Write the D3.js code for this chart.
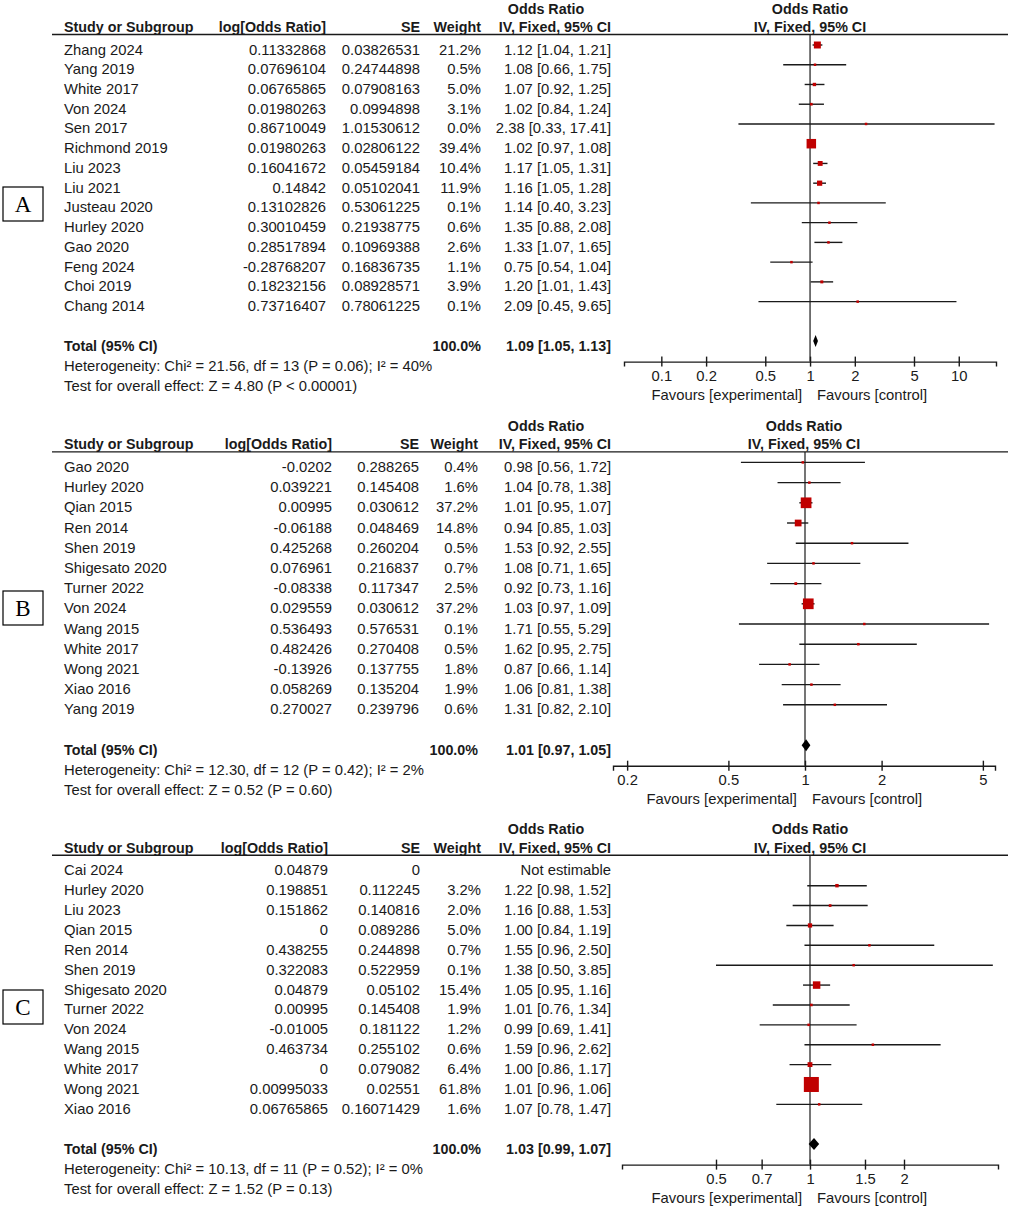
<!DOCTYPE html>
<meta charset="utf-8">
<style>
body { margin: 0; background: #fff; }
text { font-family: "Liberation Sans", Arial, sans-serif; fill: #1a1a1a; }
.t { font-size: 14.8px; }
.b { font-size: 14.3px; font-weight: bold; }
.ci { stroke: #1a1a1a; stroke-width: 1.4px; }
.sq { fill: #c00000; }
.axis path, .axis line { stroke: #1a1a1a; stroke-width: 1.4px; }
.axis text { font-family: "Liberation Sans", Arial, sans-serif; font-size: 14.8px; fill: #1a1a1a; }
</style>
<body>
<script src="https://cdn.jsdelivr.net/npm/d3@7"></script>
<script>

// ---- panel A ----
var studiesA = ["Zhang 2024", "Yang 2019", "White 2017", "Von 2024", "Sen 2017", "Richmond 2019", "Liu 2023",
                "Liu 2021", "Justeau 2020", "Hurley 2020", "Gao 2020", "Feng 2024", "Choi 2019", "Chang 2014"];
var logOrA = [0.11332868, 0.07696104, 0.06765865, 0.01980263, 0.86710049, 0.01980263, 0.16041672,
              0.14842, 0.13102826, 0.30010459, 0.28517894, -0.28768207, 0.18232156, 0.73716407];
var seA = [0.03826531, 0.24744898, 0.07908163, 0.0994898, 1.01530612, 0.02806122, 0.05459184,
           0.05102041, 0.53061225, 0.21938775, 0.10969388, 0.16836735, 0.08928571, 0.78061225];
var weightA = [21.2, 0.5, 5.0, 3.1, 0.0, 39.4, 10.4, 11.9, 0.1, 0.6, 2.6, 1.1, 3.9, 0.1];
var orA = [1.12, 1.08, 1.07, 1.02, 2.38, 1.02, 1.17, 1.16, 1.14, 1.35, 1.33, 0.75, 1.20, 2.09];
var loA = [1.04, 0.66, 0.92, 0.84, 0.33, 0.97, 1.05, 1.05, 0.40, 0.88, 1.07, 0.54, 1.01, 0.45];
var hiA = [1.21, 1.75, 1.25, 1.24, 17.41, 1.08, 1.31, 1.28, 3.23, 2.08, 1.65, 1.04, 1.43, 9.65];
var totalA = [1.09, 1.05, 1.13];
var hetA = "Heterogeneity: Chi\u00b2 = 21.56, df = 13 (P = 0.06); I\u00b2 = 40%";
var testA = "Test for overall effect: Z = 4.80 (P < 0.00001)";
var ticksA = [0.1, 0.2, 0.5, 1, 2, 5, 10];

// ---- panel B ----
var studiesB = ["Gao 2020", "Hurley 2020", "Qian 2015", "Ren 2014", "Shen 2019", "Shigesato 2020", "Turner 2022",
                "Von 2024", "Wang 2015", "White 2017", "Wong 2021", "Xiao 2016", "Yang 2019"];
var logOrB = [-0.0202, 0.039221, 0.00995, -0.06188, 0.425268, 0.076961, -0.08338,
              0.029559, 0.536493, 0.482426, -0.13926, 0.058269, 0.270027];
var seB = [0.288265, 0.145408, 0.030612, 0.048469, 0.260204, 0.216837, 0.117347,
           0.030612, 0.576531, 0.270408, 0.137755, 0.135204, 0.239796];
var weightB = [0.4, 1.6, 37.2, 14.8, 0.5, 0.7, 2.5, 37.2, 0.1, 0.5, 1.8, 1.9, 0.6];
var orB = [0.98, 1.04, 1.01, 0.94, 1.53, 1.08, 0.92, 1.03, 1.71, 1.62, 0.87, 1.06, 1.31];
var loB = [0.56, 0.78, 0.95, 0.85, 0.92, 0.71, 0.73, 0.97, 0.55, 0.95, 0.66, 0.81, 0.82];
var hiB = [1.72, 1.38, 1.07, 1.03, 2.55, 1.65, 1.16, 1.09, 5.29, 2.75, 1.14, 1.38, 2.10];
var totalB = [1.01, 0.97, 1.05];
var hetB = "Heterogeneity: Chi\u00b2 = 12.30, df = 12 (P = 0.42); I\u00b2 = 2%";
var testB = "Test for overall effect: Z = 0.52 (P = 0.60)";
var ticksB = [0.2, 0.5, 1, 2, 5];

// ---- panel C ----
var studiesC = ["Cai 2024", "Hurley 2020", "Liu 2023", "Qian 2015", "Ren 2014", "Shen 2019", "Shigesato 2020",
                "Turner 2022", "Von 2024", "Wang 2015", "White 2017", "Wong 2021", "Xiao 2016"];
var logOrC = [0.04879, 0.198851, 0.151862, 0, 0.438255, 0.322083, 0.04879,
              0.00995, -0.01005, 0.463734, 0, 0.00995033, 0.06765865];
var seC = [0, 0.112245, 0.140816, 0.089286, 0.244898, 0.522959, 0.05102,
           0.145408, 0.181122, 0.255102, 0.079082, 0.02551, 0.16071429];
var weightC = [null, 3.2, 2.0, 5.0, 0.7, 0.1, 15.4, 1.9, 1.2, 0.6, 6.4, 61.8, 1.6];
var orC = [null, 1.22, 1.16, 1.00, 1.55, 1.38, 1.05, 1.01, 0.99, 1.59, 1.00, 1.01, 1.07];
var loC = [null, 0.98, 0.88, 0.84, 0.96, 0.50, 0.95, 0.76, 0.69, 0.96, 0.86, 0.96, 0.78];
var hiC = [null, 1.52, 1.53, 1.19, 2.50, 3.85, 1.16, 1.34, 1.41, 2.62, 1.17, 1.06, 1.47];
var totalC = [1.03, 0.99, 1.07];
var hetC = "Heterogeneity: Chi\u00b2 = 10.13, df = 11 (P = 0.52); I\u00b2 = 0%";
var testC = "Test for overall effect: Z = 1.52 (P = 0.13)";
var ticksC = [0.5, 0.7, 1, 1.5, 2];

var panels = [
  {label: "A", studies: studiesA, logOr: logOrA, se: seA, weight: weightA, or: orA, lo: loA, hi: hiA,
   total: totalA, het: hetA, test: testA, ticks: ticksA, domain: [0.0561, 17.8]},
  {label: "B", studies: studiesB, logOr: logOrB, se: seB, weight: weightB, or: orB, lo: loB, hi: hiB,
   total: totalB, het: hetB, test: testB, ticks: ticksB, domain: [0.176, 5.58]},
  {label: "C", studies: studiesC, logOr: logOrC, se: seC, weight: weightC, or: orC, lo: loC, hi: hiC,
   total: totalC, het: hetC, test: testC, ticks: ticksC, domain: [0.25, 4]}
];

// layout per panel (pixels)
var layout = [
  {y0: 45, pitch: 19.74, cols: [326, 420, 481, 611], xr: [624, 996], box: [3, 187, 40, 34], sqMax: 9.5},
  {y0: 462.4, pitch: 20.2, cols: [332, 419, 478, 611], xr: [613, 995], box: [3, 591, 40, 34], sqMax: 10.7},
  {y0: 865.8, pitch: 19.88, cols: [328, 420, 481, 611], xr: [622, 998], box: [3, 990, 40, 34], sqMax: 15}
];

var svg = d3.select("body").append("svg")
    .attr("width", 1010)
    .attr("height", 1207);

var f2 = d3.format(".2f");
function ciText(o, l, h) { return f2(o) + " [" + f2(l) + ", " + f2(h) + "]"; }

function txt(g, x, y, s, cls, anchor) {
  return g.append("text")
      .attr("class", cls)
      .attr("x", x)
      .attr("y", y)
      .attr("text-anchor", anchor || "start")
      .text(s);
}

panels.forEach(function(p, k) {
  var L = layout[k];
  var g = svg.append("g");
  var lineY = L.y0 - 10.5;
  var n = p.studies.length;
  var rowY = function(i) { return L.y0 + i * L.pitch; };
  var totalY = rowY(n + 1);
  var axisY = totalY + 20.5;

  var x = d3.scaleLog().domain(p.domain).range(L.xr);
  var size = d3.scaleSqrt().domain([0, d3.max(p.weight)]).range([0, L.sqMax]);
  var plotMid = (L.xr[0] + L.xr[1]) / 2;

  // headers
  txt(g, 546, lineY - 21, "Odds Ratio", "b", "middle");
  txt(g, plotMid, lineY - 21, "Odds Ratio", "b", "middle");
  txt(g, 64, lineY - 2.5, "Study or Subgroup", "b");
  txt(g, L.cols[0], lineY - 2.5, "log[Odds Ratio]", "b", "end");
  txt(g, L.cols[1], lineY - 2.5, "SE", "b", "end");
  txt(g, L.cols[2], lineY - 2.5, "Weight", "b", "end");
  txt(g, L.cols[3], lineY - 2.5, "IV, Fixed, 95% CI", "b", "end");
  txt(g, plotMid, lineY - 2.5, "IV, Fixed, 95% CI", "b", "middle");

  g.append("line")
      .attr("x1", 52).attr("x2", 1008)
      .attr("y1", lineY).attr("y2", lineY)
      .attr("stroke", "#1a1a1a").attr("stroke-width", 1.4);

  // line of no effect
  g.append("line")
      .attr("x1", x(1)).attr("x2", x(1))
      .attr("y1", lineY).attr("y2", axisY)
      .attr("stroke", "#1a1a1a").attr("stroke-width", 1.2);

  // study rows
  p.studies.forEach(function(s, i) {
    var y = rowY(i), ty = y + 9.5;
    txt(g, 64, ty, s, "t");
    txt(g, L.cols[0], ty, String(p.logOr[i]), "t", "end");
    txt(g, L.cols[1], ty, String(p.se[i]), "t", "end");
    if (p.or[i] == null) {
      txt(g, L.cols[3], ty, "Not estimable", "t", "end");
      return;
    }
    txt(g, L.cols[2], ty, p.weight[i].toFixed(1) + "%", "t", "end");
    txt(g, L.cols[3], ty, ciText(p.or[i], p.lo[i], p.hi[i]), "t", "end");

    g.append("line")
        .attr("class", "ci")
        .attr("x1", x(p.lo[i])).attr("x2", x(p.hi[i]))
        .attr("y1", y).attr("y2", y);
    var w = Math.max(2.5, size(p.weight[i]));
    g.append("rect")
        .attr("class", "sq")
        .attr("x", x(p.or[i]) - w / 2)
        .attr("y", y - w / 2)
        .attr("width", w)
        .attr("height", w);
  });

  // total
  txt(g, 64, totalY + 9.5, "Total (95% CI)", "b");
  txt(g, L.cols[2], totalY + 9.5, "100.0%", "b", "end");
  txt(g, L.cols[3], totalY + 9.5, ciText(p.total[0], p.total[1], p.total[2]), "b", "end");
  g.append("path")
      .attr("d", "M" + x(p.total[1]) + "," + totalY +
                 "L" + x(p.total[0]) + "," + (totalY - 6) +
                 "L" + x(p.total[2]) + "," + totalY +
                 "L" + x(p.total[0]) + "," + (totalY + 6) + "Z")
      .attr("fill", "#000");

  txt(g, 64, totalY + 30, p.het, "t");
  txt(g, 64, totalY + 50, p.test, "t");

  // axis
  var ax = g.append("g")
      .attr("class", "axis")
      .attr("transform", "translate(0," + axisY + ")")
      .call(d3.axisBottom(x).tickValues(p.ticks).tickSizeOuter(0).tickSize(5)
            .tickFormat(function(d) { return String(d); }));
  ax.selectAll(".tick line").attr("y1", -5).attr("y2", 5);
  ax.selectAll(".tick text").attr("y", 0).attr("dy", 0).attr("transform", "translate(0,19.5)");
  ax.attr("font-family", null).attr("font-size", null);

  txt(g, x(1) - 8, axisY + 38.5, "Favours [experimental]", "t", "end");
  txt(g, x(1) + 7, axisY + 38.5, "Favours [control]", "t", "start");

  // panel letter
  g.append("rect")
      .attr("x", L.box[0]).attr("y", L.box[1])
      .attr("width", L.box[2]).attr("height", L.box[3])
      .attr("fill", "none").attr("stroke", "#000").attr("stroke-width", 1.2);
  g.append("text")
      .attr("x", L.box[0] + L.box[2] / 2)
      .attr("y", L.box[1] + L.box[3] / 2 + 8)
      .attr("text-anchor", "middle")
      .style("font-family", "'Liberation Serif', 'Times New Roman', serif")
      .style("font-size", "23px")
      .style("fill", "#000")
      .text(p.label);
});

</script>
</body>
